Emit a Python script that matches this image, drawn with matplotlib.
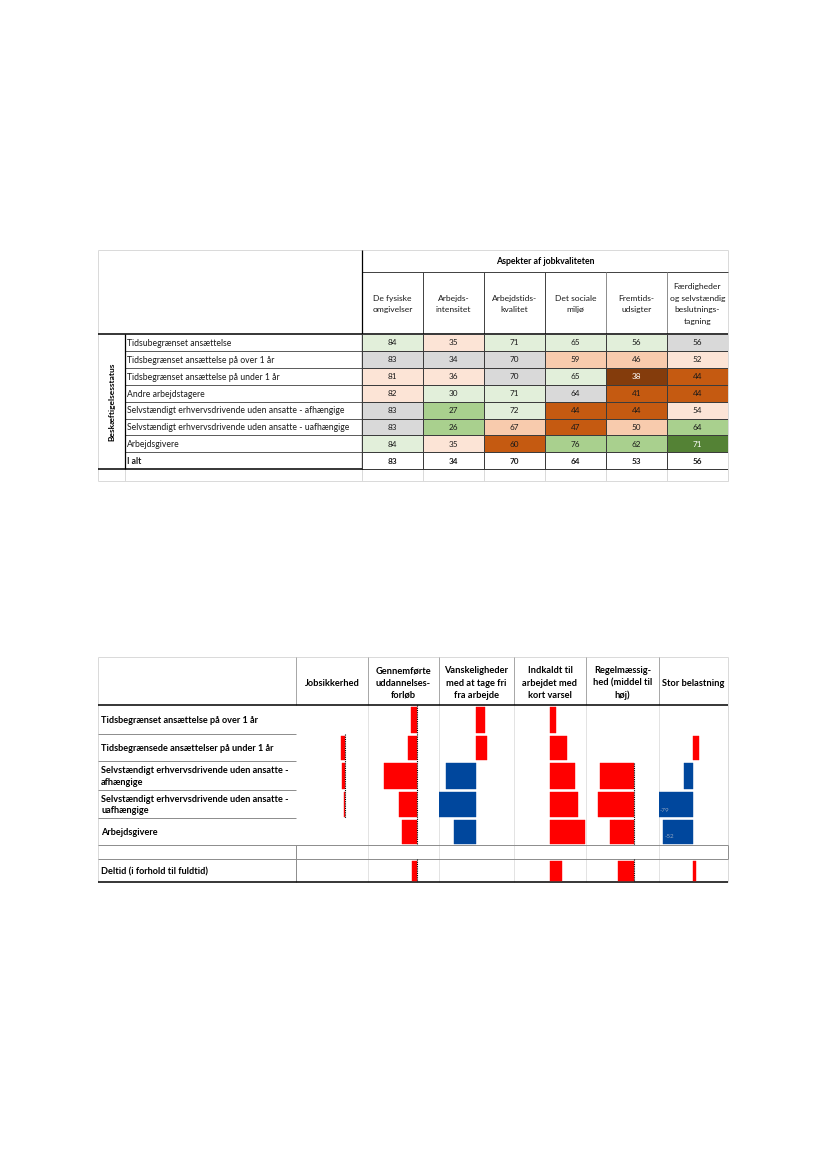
import numpy as np
import matplotlib.pyplot as plt
from matplotlib.colors import ListedColormap

W, H = 827, 1169
plt.rcParams['font.family'] = ['Lato', 'DejaVu Sans']

# ---- top table: job quality by employment status ----
aspects = ['De fysiske\nomgivelser', 'Arbejds-\nintensitet', 'Arbejdstids-\nkvalitet',
           'Det sociale\nmiljø', 'Fremtids-\nudsigter',
           'Færdigheder\nog selvstændig\nbeslutnings-\ntagning']
status = ['Tidsubegrænset ansættelse',
          'Tidsbegrænset ansættelse på over 1 år',
          'Tidsbegrænset ansættelse på under 1 år',
          'Andre arbejdstagere',
          'Selvstændigt erhvervsdrivende uden ansatte - afhængige',
          'Selvstændigt erhvervsdrivende uden ansatte - uafhængige',
          'Arbejdsgivere',
          'I alt']
scores = [[84, 35, 71, 65, 56, 56],
          [83, 34, 70, 59, 46, 52],
          [81, 36, 70, 65, 38, 44],
          [82, 30, 71, 64, 41, 44],
          [83, 27, 72, 44, 44, 54],
          [83, 26, 67, 47, 50, 64],
          [84, 35, 60, 76, 62, 71],
          [83, 34, 70, 64, 53, 56]]
# shading class: 0 none, 1-3 better (green), 4 same, 5-8 worse (orange)
shade = [[1, 5, 1, 1, 1, 4],
         [4, 4, 4, 6, 6, 5],
         [5, 5, 4, 1, 8, 7],
         [5, 1, 1, 4, 7, 7],
         [4, 2, 1, 7, 7, 5],
         [4, 2, 6, 7, 6, 2],
         [1, 5, 7, 2, 2, 3],
         [0, 0, 0, 0, 0, 0]]
shade_colors = ['white', '#E2EFDA', '#A9D08E', '#548235', '#D9D9D9',
                '#FCE4D6', '#F8CBAD', '#C55A11', '#843C0C']

# ---- bottom chart: effects by group ----
effect_cols = ['Jobsikkerhed', 'Gennemførte\nuddannelses-\nforløb',
               'Vanskeligheder\nmed at tage fri\nfra arbejde',
               'Indkaldt til\narbejdet med\nkort varsel',
               'Regelmæssig-\nhed (middel til\nhøj)', 'Stor belastning']
effect_rows = ['Tidsbegrænset ansættelse på over 1 år',
               'Tidsbegrænsede ansættelser på under 1 år',
               'Selvstændigt erhvervsdrivende uden ansatte -\nafhængige',
               'Selvstændigt erhvervsdrivende uden ansatte -\nuafhængige',
               'Arbejdsgivere', '',
               'Deltid (i forhold til fuldtid)']
nan = np.nan
effects = [[nan, -4.5, -3.5, -0.7, nan, nan, nan],
           [-5.4, -8.4, -32.7, -17.4, -15.0, nan, -4.5],
           [9.3, 11.0, -30.3, -36.7, -22.0, nan, nan],
           [6.7, 17.3, 25.7, 28.3, 35.3, nan, 12.7],
           [nan, nan, -34.3, -36.3, -24.0, nan, -16.3],
           [nan, 6.3, -9.0, -35.0, -30.0, nan, 2.7]]
# r = unfavourable, b = favourable
effect_kind = [['r'] * 7,
               ['r'] * 7,
               ['r', 'r', 'b', 'b', 'b', 'r', 'r'],
               ['r'] * 7,
               ['r'] * 7,
               ['r', 'r', 'b', 'b', 'b', 'r', 'r']]
hidden_labels = {(5, 3): '-79', (5, 4): '-52'}
kind_colors = {'r': '#FF0000', 'b': '#00479D'}

# ---- layout (pixels) ----
fig = plt.figure(figsize=(W / 100, H / 100), dpi=100)


def box(x0, y0, x1, y1):
    return [x0 / W, 1 - y1 / H, (x1 - x0) / W, (y1 - y0) / H]


page = fig.add_axes([0, 0, 1, 1])
page.set_xlim(0, W)
page.set_ylim(H, 0)
page.axis('off')


def hline(y, x0, x1, c, lw=0.7):
    page.plot([x0, x1], [y, y], color=c, lw=lw, solid_capstyle='butt')


def vline(x, y0, y1, c, lw=0.7):
    page.plot([x, x], [y0, y1], color=c, lw=lw, solid_capstyle='butt')


LIGHT, MID, DARK = '#D9D9D9', '#8C8C8C', '#404040'
TXT = '#1A1A1A'

# top table frame
tx0, tx1 = 98, 728
dx0 = 362
col_w = (tx1 - dx0) / 6
ty_top, ty_hdr, ty_dat, ty_end, ty_bot = 250, 272, 334, 469.3, 481
row_h = (ty_end - ty_dat) / 8
hline(ty_top, tx0, tx1, LIGHT)
hline(ty_bot, tx0, tx1, LIGHT)
vline(tx0, ty_top, ty_bot, LIGHT)
vline(tx1, ty_top, ty_bot, LIGHT)
for k in range(7):
    vline(dx0 + k * col_w, ty_end, ty_bot, LIGHT)
vline(125, ty_end, ty_bot, LIGHT)
hline(ty_hdr, dx0, tx1, DARK)
for k in range(1, 6):
    vline(dx0 + k * col_w, ty_hdr, ty_dat, DARK if k < 4 else MID)
for k in range(1, 8):
    hline(ty_dat + k * row_h, 125, dx0, '#595959')
vline(dx0, ty_top, ty_end, 'black', 0.9)
vline(125, ty_dat, ty_end, 'black', 0.9)

heat = fig.add_axes(box(dx0, ty_dat, tx1, ty_end))
heat.pcolormesh(np.arange(7), np.arange(9), np.array(shade),
                cmap=ListedColormap(shade_colors), vmin=-0.5, vmax=8.5,
                edgecolors='#3C3C3C', linewidth=0.6)
heat.set_xlim(0, 6)
heat.set_ylim(8, 0)
heat.axis('off')
for i, row in enumerate(scores):
    for j, v in enumerate(row):
        tc = 'white' if shade[i][j] in (3, 8) else TXT
        heat.text(j + 0.5, i + 0.52, str(v), ha='center', va='center',
                  fontsize=5.9, color=tc,
                  weight='bold' if i == len(scores) - 1 else 'normal')

hline(ty_dat, tx0, tx1, 'black', 1.1)
hline(ty_end, tx0, tx1, 'black', 1.1)

page.text((dx0 + tx1) / 2, (ty_top + ty_hdr) / 2 + 1, 'Aspekter af jobkvaliteten',
          ha='center', va='center', fontsize=6.3, weight='bold')
for j, a in enumerate(aspects):
    page.text(dx0 + (j + 0.5) * col_w, (ty_hdr + ty_dat) / 2 + 1, a,
              ha='center', va='center', fontsize=6.1, linespacing=1.8,
              color=TXT)
for i, s in enumerate(status):
    page.text(127, ty_dat + (i + 0.55) * row_h, s, ha='left', va='center',
              fontsize=6.2, color=TXT,
              weight='bold' if i == len(status) - 1 else 'normal')
page.text(112, (ty_dat + ty_end) / 2, 'Beskæftigelsesstatus', rotation=90,
          ha='center', va='center', fontsize=6.0, weight='bold')

# bottom chart frame
by_top, by_hdr, by_bot = 657, 705, 882
row_edges = [705, 734, 761, 790, 818, 845, 859, 882]
col_edges = [296, 368, 439, 514, 586, 659, 728]
baselines = [345, 416.7, 476, 549.7, 634.3, 693]

hline(by_top, tx0, tx1, LIGHT)
vline(tx0, by_top, by_bot, LIGHT)
vline(tx1, by_top, row_edges[5], LIGHT)
vline(tx1, row_edges[6], by_bot, LIGHT)
for x in col_edges[:-1]:
    vline(x, by_top, by_hdr, '#A6A6A6')
for x in col_edges[1:-1]:
    vline(x, by_hdr, by_bot, '#E3E3E3')
for y in row_edges[1:5]:
    hline(y, tx0, col_edges[0], MID)
hline(row_edges[5], tx0, tx1, MID)
hline(row_edges[6], tx0, tx1, MID)
vline(tx1, row_edges[5], row_edges[6], MID)
vline(col_edges[0], row_edges[5], by_bot, MID)

for c, name in enumerate(effect_cols):
    page.text((col_edges[c] + col_edges[c + 1]) / 2, 683, name, ha='center',
              va='center', fontsize=6.7, weight='bold', linespacing=1.5)
for r, name in enumerate(effect_rows):
    if name:
        page.text(101, (row_edges[r] + row_edges[r + 1]) / 2 + 1, name,
                  ha='left', va='center', fontsize=6.6, weight='bold',
                  linespacing=1.4)

# dotted zero lines (y-spans in pixels)
zero_spans = {0: [(734, 818)], 1: [(705, 845), (859, 882)],
              4: [(763, 845), (859, 882)]}

for c in range(len(effect_cols)):
    L, R, B = col_edges[c], col_edges[c + 1], baselines[c]
    ax = fig.add_axes(box(L, by_hdr, R, by_bot))
    ax.set_xlim(L - B, R - B)
    ax.set_ylim(by_bot, by_hdr)
    ax.axis('off')
    ax.patch.set_alpha(0)
    for y0, y1 in zero_spans.get(c, []):
        ax.vlines(0, y0, y1, colors='black', linestyles=(0, (1, 1)), lw=0.8)
    for r, v in enumerate(effects[c]):
        if np.isnan(v):
            continue
        y0, y1 = row_edges[r], row_edges[r + 1]
        col = kind_colors[effect_kind[c][r]]
        ax.barh((y0 + y1) / 2 + 0.5, v, height=(y1 - y0) - 3, color=col,
                edgecolor=col, lw=0.3)
        if (c, r) in hidden_labels:
            ax.text(v + 2, y1 - 8, hidden_labels[(c, r)], ha='left',
                    va='center', fontsize=4.5, color='#8FA3C0')

hline(by_hdr, tx0, tx1, 'black', 1.1)
hline(by_bot, tx0, tx1, 'black', 1.1)

fig.savefig('out.png', dpi=100)
